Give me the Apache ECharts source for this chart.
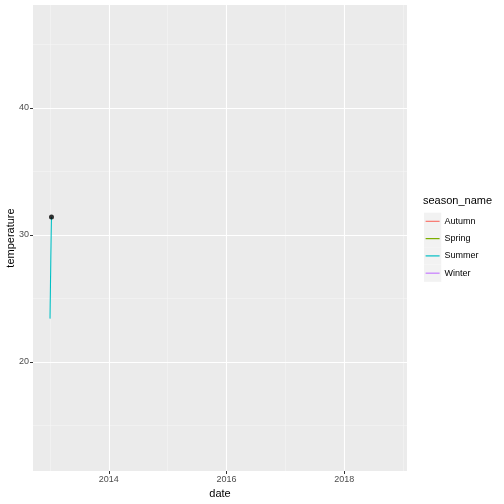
<!DOCTYPE html>
<html>
<head>
<meta charset="utf-8">
<script src="https://cdn.jsdelivr.net/npm/echarts@6/dist/echarts.min.js"></script>
<style>html,body{margin:0;padding:0;background:#fff;}#c{width:504px;height:504px;}</style>
</head>
<body>
<div id="c"></div>
<script>
// Data
const seasons = ['Autumn', 'Spring', 'Summer', 'Winter'];
const seasonColors = ['#F8766D', '#7CAE00', '#00BFC4', '#C77CFF'];
const summerDates = ['2013-01-01','2013-01-02','2013-01-03','2013-01-04','2013-01-05','2013-01-06','2013-01-07','2013-01-08','2013-01-09','2013-01-10'];
const summerTemps = [23.4, 24.5, 25.3, 26.4, 27.2, 28.3, 29.1, 30.0, 30.8, 31.4];
const pointDate = ['2013-01-10'];
const pointTemp = [31.4];
const xMajorTicks = [2014, 2016, 2018];
const xMinorTicks = [2013, 2015, 2017, 2019];
const yMajorTicks = [20, 30, 40];
const yMinorTicks = [15, 25, 35, 45];
const xRange = ['2012-09-17', '2019-01-26'];
const yRange = [11.4, 48.1];

// date string -> decimal year (position on the date scale)
const toYear = d => {
  const t = new Date(d + 'T00:00:00Z');
  const y = t.getUTCFullYear();
  const s = Date.UTC(y, 0, 1), e = Date.UTC(y + 1, 0, 1);
  return y + (t.getTime() - s) / (e - s);
};

const chart = echarts.init(document.getElementById('c'), null, {renderer: 'canvas'});

const series = seasons.map((s, i) => ({
  name: s,
  type: 'line',
  xAxisIndex: 0, yAxisIndex: 0,
  data: s === 'Summer' ? summerDates.map((d, k) => [toYear(d), summerTemps[k]]) : [],
  showSymbol: false,
  symbol: 'none',
  lineStyle: {color: seasonColors[i], width: 1.1},
  itemStyle: {color: seasonColors[i]},
  animation: false,
  z: 3
}));
series.push({
  name: 'point',
  type: 'scatter',
  data: pointDate.map((d, k) => [toYear(d), pointTemp[k]]),
  symbolSize: 5,
  itemStyle: {color: '#000'},
  animation: false,
  z: 4
});

const keyGraphics = seasons.map((s, i) => ({
  type: 'rect',
  shape: {x: 424, y: 212.7 + i * 17.28, width: 17.28, height: 17.28},
  style: {fill: '#F2F2F2'},
  z: -1
}));

const xmin = toYear(xRange[0]), xmax = toYear(xRange[1]);

chart.setOption({
  animation: false,
  textStyle: {fontFamily: 'Liberation Sans, Arial, sans-serif'},
  grid: {
    left: 33, right: 97, top: 5, bottom: 33,
    containLabel: false, outerBoundsMode: 'none',
    show: true, backgroundColor: '#EBEBEB', borderWidth: 0
  },
  xAxis: [
    {
      type: 'value',
      min: xmin, max: xmax,
      name: 'date', nameLocation: 'middle', nameGap: 17, nameMoveOverlap: false,
      nameTextStyle: {color: '#000', fontSize: 11},
      axisLine: {show: false},
      axisTick: {show: true, length: 3, lineStyle: {color: '#333333', width: 1}, customValues: xMajorTicks},
      axisLabel: {show: true, color: '#4D4D4D', fontSize: 9, margin: 4, customValues: xMajorTicks,
        formatter: v => String(v)},
      splitLine: {show: true, lineStyle: {color: '#FFFFFF', width: 1.1}},
      z: 1
    },
    {
      type: 'value',
      position: 'bottom',
      min: xmin, max: xmax,
      axisLine: {show: false},
      axisTick: {show: false, customValues: xMinorTicks},
      axisLabel: {show: false, customValues: xMinorTicks},
      splitLine: {show: true, lineStyle: {color: '#F5F5F5', width: 0.55}},
      z: 0
    }
  ],
  yAxis: [
    {
      type: 'value',
      min: yRange[0], max: yRange[1],
      name: 'temperature', nameLocation: 'middle', nameGap: 17, nameMoveOverlap: false,
      nameTextStyle: {color: '#000', fontSize: 11},
      axisLine: {show: false},
      axisTick: {show: true, length: 3, lineStyle: {color: '#333333', width: 1}, customValues: yMajorTicks},
      axisLabel: {show: true, color: '#4D4D4D', fontSize: 9, margin: 4, customValues: yMajorTicks},
      splitLine: {show: true, lineStyle: {color: '#FFFFFF', width: 1.1}},
      z: 1
    },
    {
      type: 'value',
      position: 'left',
      min: yRange[0], max: yRange[1],
      axisLine: {show: false},
      axisTick: {show: false, customValues: yMinorTicks},
      axisLabel: {show: false, customValues: yMinorTicks},
      splitLine: {show: true, lineStyle: {color: '#F5F5F5', width: 0.55}},
      z: 0
    }
  ],
  legend: {
    data: seasons,
    orient: 'vertical',
    left: 425.6, top: 212.7,
    padding: 0,
    itemGap: 0,
    itemWidth: 14, itemHeight: 1.2,
    icon: 'rect',
    textStyle: {color: '#000', fontSize: 9, lineHeight: 17.28, padding: [0,0,0,0]},
    selectedMode: false
  },
  graphic: [
    {type: 'text', left: 423, top: 195, style: {text: 'season_name', fontSize: 11, fill: '#000', fontFamily: 'Liberation Sans, Arial, sans-serif'}},
    ...keyGraphics
  ],
  series: series
});
</script>
</body>
</html>
